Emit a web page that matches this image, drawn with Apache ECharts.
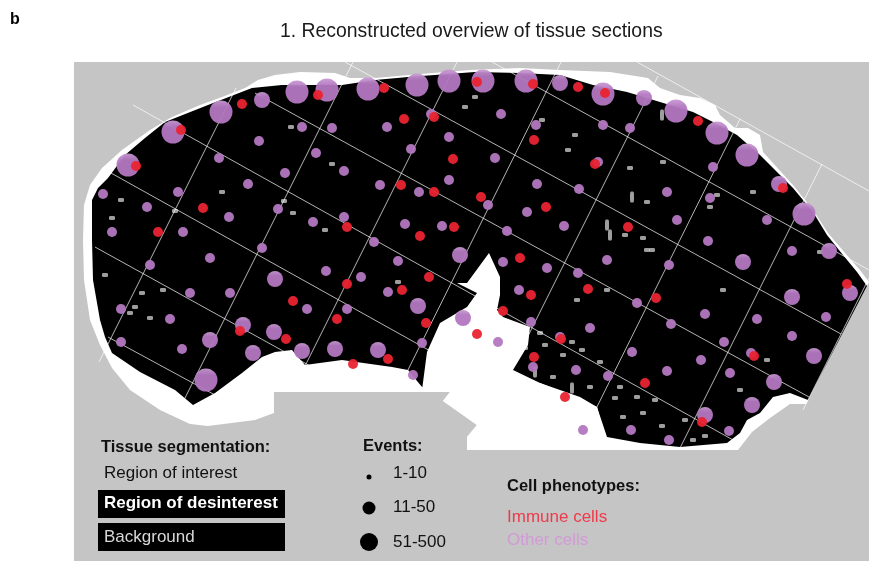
<!DOCTYPE html>
<html>
<head>
<meta charset="utf-8">
<script src="https://cdn.jsdelivr.net/npm/echarts@6/dist/echarts.min.js"></script>
<style>
  html, body { margin: 0; padding: 0; background: #fff; }
  #main { width: 872px; height: 563px; }
</style>
</head>
<body>
<div id="main"></div>
<script>
// all positions are in pixels of the section image (x to the right, y downwards)

// white margin around the tissue
const marginOutline = [
  [84,205],[90,185],[102,168],[122,150],[150,130],[172,117],[200,105],[222,97],[245,88],[258,80],
  [275,75],[300,72],[335,73],[350,78],[375,78],[420,74],[470,70],[520,68],[560,70],[610,72],
  [648,78],[660,88],[680,95],[700,98],[715,105],[720,115],[735,128],[748,128],[760,135],[763,152],
  [793,185],[813,210],[828,233],[845,253],[860,270],[869,282],[806,404],[790,404],[770,418],[752,432],
  [738,450],[467,450],[467,437],[477,425],[443,401],[450,392],[274,392],[274,413],[255,420],[208,426],
  [190,424],[160,410],[130,390],[112,368],[100,345],[90,320],[84,280],[83,240]
];

// region of desinterest (black)
const tissueOutline = [
  [92,200],[98,188],[108,178],[125,155],[145,138],[165,122],[208,105],[252,88],[282,85],[342,85],
  [375,80],[408,77],[475,72],[520,73],[560,75],[593,85],[627,92],[660,102],[693,112],[713,122],
  [737,135],[760,155],[793,188],[813,212],[827,235],[843,255],[857,272],[867,286],[808,400],[790,393],
  [773,397],[760,413],[747,420],[740,433],[727,443],[680,447],[640,443],[607,437],[597,407],[540,383],
  [500,380],[450,390],[422,387],[408,370],[392,367],[342,360],[305,365],[292,350],[275,352],[262,357],
  [242,373],[215,393],[193,405],[175,390],[140,372],[112,353],[105,337],[100,320],[93,280],[92,240]
];

// white cut in the lower middle
const cutOutline = [
  [422,390],[427,352],[440,323],[467,307],[477,293],[457,283],[467,283],[489,253],[500,277],[500,295],
  [497,310],[503,317],[530,327],[528,345],[513,370],[540,383],[580,397],[597,407],[603,430],[600,450],
  [467,450],[467,437],[477,425],[443,401],[450,392]
];

// small grey specks inside the tissue
const specks = [
  [121,200],[112,218],[291,127],[332,164],[465,107],[284,201],[293,213],[175,211],[325,230],[222,192],
  [475,97],[542,120],[575,135],[568,150],[630,168],[663,162],[647,202],[625,235],[643,238],[652,250],
  [717,195],[710,207],[753,192],[820,252],[142,293],[163,290],[135,307],[130,313],[105,275],[150,318],
  [398,282],[472,310],[428,373],[647,250],[723,290],[577,300],[607,290],[525,348],[563,355],[553,377],
  [590,387],[620,387],[637,397],[623,417],[643,413],[693,440],[740,390],[767,360],[793,413],[777,437],
  [545,345],[582,350],[600,362],[615,398],[655,400],[662,426],[685,420],[705,436],[540,333],[572,342]
];
const longSpecks = [[662,115],[632,197],[607,225],[610,235],[535,372],[572,388]];

// tile grid of the scan, [x1, y1, x2, y2]
const tileLinesA = [
  [637,62,869,191],[492,62,869,270],[345,62,841,334],[255,93,809,397],
  [133,105,742,445],[102,168,590,440],[95,247,350,388],[108,337,215,395]
];
const tileLinesB = [
  [236,88,99,362],[353,62,176,416],[457,62,300,376],[561,62,398,390],
  [658,76,475,442],[740,119,578,445],[822,164,679,450],[869,278,803,410]
];

// other cells, by number of events
const otherLarge = [
  [128,165],[173,132],[221,112],[297,92],[327,90],[368,89],[417,85],[449,81],[483,81],[526,81],
  [603,94],[676,111],[717,133],[747,155],[804,214],[206,380]
];
const otherMedium = [
  [262,100],[560,83],[644,98],[779,184],[829,251],[743,262],[460,255],[275,279],[243,325],[274,332],
  [210,340],[253,353],[302,351],[335,349],[378,350],[418,306],[463,318],[850,293],[792,297],[814,356],
  [774,382],[752,405],[705,415]
];
const otherSmall = [
  [302,127],[332,128],[259,141],[316,153],[344,171],[285,173],[219,158],[248,184],[178,192],[103,194],
  [147,207],[229,217],[278,209],[313,222],[344,217],[112,232],[183,232],[262,248],[210,258],[150,265],
  [326,271],[387,127],[431,114],[449,137],[411,149],[449,180],[380,185],[419,192],[405,224],[442,226],
  [374,242],[398,261],[713,167],[792,251],[767,220],[708,241],[710,198],[667,192],[677,220],[669,265],
  [630,128],[603,125],[598,162],[579,189],[564,226],[537,184],[527,212],[507,231],[503,262],[547,268],
  [578,273],[607,260],[536,125],[501,114],[495,158],[488,205],[190,293],[230,293],[121,309],[170,319],
  [307,309],[182,349],[121,342],[361,277],[388,292],[347,309],[422,343],[413,375],[519,290],[531,322],
  [498,342],[560,337],[590,328],[637,303],[671,324],[826,317],[757,319],[792,336],[751,353],[724,342],
  [705,314],[701,360],[730,373],[729,431],[669,440],[631,430],[583,430],[667,371],[632,352],[608,376],
  [576,370],[533,367]
];
// immune cells
const immuneCells = [
  [136,166],[181,130],[242,104],[318,95],[384,88],[404,119],[434,117],[453,159],[401,185],[434,192],
  [203,208],[158,232],[347,227],[420,236],[454,227],[477,82],[533,84],[578,87],[605,93],[698,121],
  [783,188],[595,164],[534,140],[481,197],[546,207],[628,227],[520,258],[293,301],[347,284],[429,277],
  [402,290],[337,319],[240,331],[286,339],[426,323],[388,359],[353,364],[847,284],[754,356],[702,422],
  [531,295],[588,289],[656,298],[503,311],[477,334],[561,339],[534,357],[645,383],[565,397]
];

const FONT = '"Liberation Sans", Arial, sans-serif';
const PURPLE = '#b377c1';
const RED = '#ea2330';
// big circles have a lighter cap on top
const PURPLE_SHINE = new echarts.graphic.LinearGradient(0, 0, 0, 1, [
  { offset: 0, color: '#c899d2' },
  { offset: 0.3, color: PURPLE },
  { offset: 1, color: PURPLE }
]);

function area(points, color, z) {
  return {
    type: 'custom',
    silent: true,
    z: z,
    data: [0],
    renderItem: function (params, api) {
      return {
        type: 'polygon',
        shape: { points: points.map(p => api.coord(p)) },
        style: { fill: color }
      };
    }
  };
}

function cells(data, size, color, z) {
  return {
    type: 'scatter',
    data: data,
    symbolSize: size,
    silent: true,
    z: z,
    itemStyle: { color: color, opacity: 0.95 }
  };
}

function text(x, y, str, font, fill) {
  return {
    type: 'text', x: x, y: y, silent: true,
    style: { text: str, font: font, fill: fill, textVerticalAlign: 'middle' }
  };
}

const chart = echarts.init(document.getElementById('main'));

chart.setOption({
  animation: false,
  grid: {
    left: 74, top: 62, width: 795, height: 499,
    show: true, backgroundColor: '#c4c5c4', borderWidth: 0
  },
  xAxis: { type: 'value', min: 74, max: 869, show: false },
  yAxis: { type: 'value', min: 62, max: 561, inverse: true, show: false },
  series: [
    area(marginOutline, '#ffffff', 1),
    area(tissueOutline, '#000000', 2),
    {
      type: 'scatter', data: specks, symbol: 'roundRect', symbolSize: [6, 4],
      silent: true, z: 3, itemStyle: { color: '#c4c5c4' }
    },
    {
      type: 'scatter', data: longSpecks, symbol: 'roundRect', symbolSize: [4, 11],
      silent: true, z: 3, itemStyle: { color: '#c4c5c4' }
    },
    {
      type: 'lines',
      coordinateSystem: 'cartesian2d',
      silent: true,
      z: 4,
      data: tileLinesA.concat(tileLinesB).map(s => ({ coords: [[s[0], s[1]], [s[2], s[3]]] })),
      lineStyle: { color: '#ffffff', width: 1, opacity: 0.7 }
    },
    area(cutOutline, '#ffffff', 5),
    cells(otherLarge, 23, PURPLE_SHINE, 10),
    cells(otherMedium, 16, PURPLE_SHINE, 10),
    cells(otherSmall, 10, PURPLE, 10),
    cells(immuneCells, 10, RED, 11)
  ],
  graphic: [
    text(10, 20, 'b', 'bold 16px ' + FONT, '#000'),
    text(280, 32, '1. Reconstructed overview of tissue sections', '19.4px ' + FONT, '#1a1a1a'),

    text(101, 447, 'Tissue segmentation:', 'bold 16.5px ' + FONT, '#111'),
    text(104, 473, 'Region of interest', '17px ' + FONT, '#111'),
    { type: 'rect', shape: { x: 98, y: 490, width: 187, height: 28 }, style: { fill: '#000' }, silent: true },
    text(104, 503, 'Region of desinterest', 'bold 17px ' + FONT, '#fff'),
    { type: 'rect', shape: { x: 98, y: 523, width: 187, height: 28 }, style: { fill: '#000' }, silent: true },
    text(104, 537, 'Background', '17px ' + FONT, '#d8d8d8'),

    text(363, 446, 'Events:', 'bold 16.5px ' + FONT, '#111'),
    { type: 'circle', shape: { cx: 369, cy: 477, r: 2.5 }, style: { fill: '#000' }, silent: true },
    text(393, 473, '1-10', '17px ' + FONT, '#111'),
    { type: 'circle', shape: { cx: 369, cy: 508, r: 6.5 }, style: { fill: '#000' }, silent: true },
    text(393, 507, '11-50', '17px ' + FONT, '#111'),
    { type: 'circle', shape: { cx: 369, cy: 542, r: 9 }, style: { fill: '#000' }, silent: true },
    text(393, 542, '51-500', '17px ' + FONT, '#111'),

    text(507, 486, 'Cell phenotypes:', 'bold 16.5px ' + FONT, '#111'),
    text(507, 517, 'Immune cells', '17px ' + FONT, '#ee3a4a'),
    text(507, 540, 'Other cells', '17px ' + FONT, '#d29ad6')
  ]
});
</script>
</body>
</html>
